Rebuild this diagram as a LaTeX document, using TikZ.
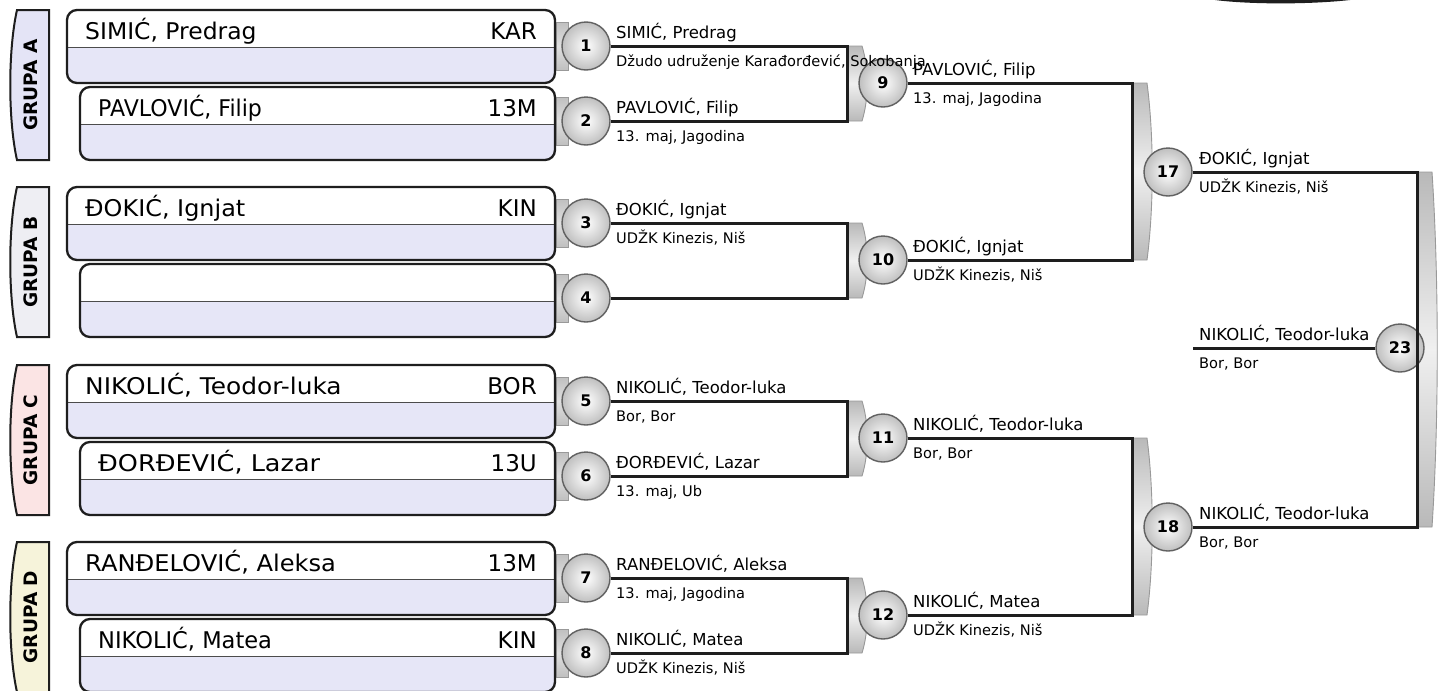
\documentclass[tikz,border=0pt]{standalone}
\usepackage{fontspec}
\setmainfont{DejaVu Sans}
\definecolor{lav}{HTML}{E6E6F7}
\definecolor{tabA}{HTML}{E4E4F6}
\definecolor{tabB}{HTML}{EEEEF3}
\definecolor{tabC}{HTML}{FBE4E4}
\definecolor{tabD}{HTML}{F6F3DA}
\definecolor{ink}{HTML}{1E1E1E}
\tikzset{
 conn/.style={line width=3pt, draw=ink},
 ball/.style={circle, minimum size=48pt, inner sep=0pt, draw=ink!70, line width=1.4pt, inner color=white, outer color=gray!50, font=\fontsize{16}{18}\selectfont\bfseries},
 pname/.style={anchor=base west, inner sep=0pt, font=\fontsize{16.5}{19}\selectfont},
 pclub/.style={anchor=base west, inner sep=0pt, font=\fontsize{14.6}{17}\selectfont},
 bigname/.style={anchor=base west, inner sep=0pt, font=\fontsize{23}{27}\selectfont},
 bigcode/.style={anchor=base east, inner sep=0pt, font=\fontsize{23}{27}\selectfont},
 grp/.style={rotate=90, inner sep=0pt, font=\fontsize{18.5}{20}\selectfont\bfseries},
 brfill/.style={draw=gray!80, line width=0.9pt, top color=gray!55, bottom color=gray!55, middle color=gray!12},
 tabfill/.style={draw=gray!80, line width=0.9pt, top color=gray!50, bottom color=gray!50, middle color=gray!25},
 grptab/.style={draw=ink, line width=2pt},
}
\newcommand\compbox[6]{%
 \begin{scope}
 \clip[rounded corners=10pt] (#1,#2) rectangle (555,#2+73);
 \fill[lav] (#1,#2) rectangle (555,#2+73);
 \fill[white] (#1,#2) rectangle (555,#2+37);
 \draw[gray!60!black, line width=1pt] (#1,#2+37) -- (555,#2+37);
 \end{scope}
 \draw[ink, line width=2.3pt, rounded corners=10pt] (#1,#2) rectangle (555,#2+73);
 \node[bigname] (#3n) at (#1+18,#2+29) {\scalebox{#6}[1]{#4}};
 \node[bigcode] (#3c) at (537,#2+29) {#5};
}
\newcommand\grouptab[4]{%
 \path[grptab, fill=#3] (49,#1) -- (17,#1) .. controls (8,#1+40) and (8,#1+110) .. (17,#1+150) -- (49,#1+150) -- cycle;
 \node[grp] (#2) at (31,#1+75) {#4};
}
\newcommand\smalltab[1]{%
 \path[tabfill] (556,#1-24) rectangle (568,#1+24);
}
\newcommand\bracketshape[3]{%
 \path[brfill] (#1,#2) -- (#1+15,#2) .. controls (#1+22,{#2+(#3-#2)*0.3}) and (#1+22,{#3-(#3-#2)*0.3}) .. (#1+15,#3) -- (#1,#3) -- cycle;
}
\begin{document}
\begin{tikzpicture}[x=1pt,y=-1pt]
\useasboundingbox (0,0) rectangle (1441,691);
\fill[white] (0,0) rectangle (1441,691);
% top-right fragment
\fill[ink] (1215,0) .. controls (1250,4.5) and (1310,4.5) .. (1350,0) -- cycle;
% group tabs
\grouptab{10}{gA}{tabA}{GRUPA A}
\grouptab{187}{gB}{tabB}{GRUPA B}
\grouptab{365}{gC}{tabC}{GRUPA C}
\grouptab{542}{gD}{tabD}{GRUPA D}
% small tabs
\smalltab{46}\smalltab{121}\smalltab{223}\smalltab{298}
\smalltab{401}\smalltab{476}\smalltab{578}\smalltab{653}
% competitor boxes
\compbox{67}{10}{a1}{SIMIĆ, Predrag}{KAR}{1.02}
\compbox{80}{87}{a2}{PAVLOVIĆ, Filip}{13M}{0.96}
\compbox{67}{187}{b1}{ĐOKIĆ, Ignjat}{KIN}{1.04}
\compbox{80}{264}{b2}{}{}{1}
\compbox{67}{365}{c1}{NIKOLIĆ, Teodor-luka}{BOR}{1.08}
\compbox{80}{442}{c2}{ĐORĐEVIĆ, Lazar}{13U}{1.11}
\compbox{67}{542}{d1}{RANĐELOVIĆ, Aleksa}{13M}{1.05}
\compbox{80}{619}{d2}{NIKOLIĆ, Matea}{KIN}{0.98}
% brackets
\bracketshape{847}{46}{121}
\bracketshape{847}{223}{298}
\bracketshape{847}{401}{476}
\bracketshape{847}{578}{653}
\bracketshape{1132}{83}{260}
\bracketshape{1132}{438}{615}
\bracketshape{1417}{172}{527}
% circles
\node[ball] (m1) at (586,46) {1};
\node[ball] (m2) at (586,121) {2};
\node[ball] (m3) at (586,223) {3};
\node[ball] (m4) at (586,298) {4};
\node[ball] (m5) at (586,401) {5};
\node[ball] (m6) at (586,476) {6};
\node[ball] (m7) at (586,578) {7};
\node[ball] (m8) at (586,653) {8};
\node[ball] (m9) at (883,83) {9};
\node[ball] (m10) at (883,260) {10};
\node[ball] (m11) at (883,438) {11};
\node[ball] (m12) at (883,615) {12};
\node[ball] (m17) at (1168,172) {17};
\node[ball] (m18) at (1168,527) {18};
\node[ball] (m23) at (1400,348) {23};
% bracket corner coordinates
\coordinate (k9a) at (847,46); \coordinate (k9b) at (847,121);
\coordinate (k10a) at (847,223); \coordinate (k10b) at (847,298);
\coordinate (k11a) at (847,401); \coordinate (k11b) at (847,476);
\coordinate (k12a) at (847,578); \coordinate (k12b) at (847,653);
\coordinate (k17a) at (1132,83); \coordinate (k17b) at (1132,260);
\coordinate (k18a) at (1132,438); \coordinate (k18b) at (1132,615);
\coordinate (k23a) at (1417,172); \coordinate (k23b) at (1417,527);
\coordinate (e23) at (1193,348);
% connectors
\draw[conn] (m1) -- (k9a) -- (k9b) -- (m2);
\draw[conn] (m3) -- (k10a) -- (k10b) -- (m4);
\draw[conn] (m5) -- (k11a) -- (k11b) -- (m6);
\draw[conn] (m7) -- (k12a) -- (k12b) -- (m8);
\draw[conn] (m9) -- (k17a) -- (k17b) -- (m10);
\draw[conn] (m11) -- (k18a) -- (k18b) -- (m12);
\draw[conn] (m17) -- (k23a) -- (k23b) -- (m18);
\draw[conn] (m23) -- (e23);
% labels
\node[pname] (n1) at (616,38) {SIMIĆ, Predrag};
\node[pclub] (l1) at (616,66) {Džudo udruženje Karađorđević, Sokobanja};
\node[pname] (n2) at (616,113) {PAVLOVIĆ, Filip};
\node[pclub] (l2) at (616,141) {13. maj, Jagodina};
\node[pname] (n3) at (616,215) {ĐOKIĆ, Ignjat};
\node[pclub] (l3) at (616,243) {UDŽK Kinezis, Niš};
\node[pname] (n5) at (616,393) {NIKOLIĆ, Teodor-luka};
\node[pclub] (l5) at (616,421) {Bor, Bor};
\node[pname] (n6) at (616,468) {ĐORĐEVIĆ, Lazar};
\node[pclub] (l6) at (616,496) {13. maj, Ub};
\node[pname] (n7) at (616,570) {RANĐELOVIĆ, Aleksa};
\node[pclub] (l7) at (616,598) {13. maj, Jagodina};
\node[pname] (n8) at (616,645) {NIKOLIĆ, Matea};
\node[pclub] (l8) at (616,673) {UDŽK Kinezis, Niš};
\node[pname] (n9) at (913,75) {PAVLOVIĆ, Filip};
\node[pclub] (l9) at (913,103) {13. maj, Jagodina};
\node[pname] (n10) at (913,252) {ĐOKIĆ, Ignjat};
\node[pclub] (l10) at (913,280) {UDŽK Kinezis, Niš};
\node[pname] (n11) at (913,430) {NIKOLIĆ, Teodor-luka};
\node[pclub] (l11) at (913,458) {Bor, Bor};
\node[pname] (n12) at (913,607) {NIKOLIĆ, Matea};
\node[pclub] (l12) at (913,635) {UDŽK Kinezis, Niš};
\node[pname] (n17) at (1199,164) {ĐOKIĆ, Ignjat};
\node[pclub] (l17) at (1199,192) {UDŽK Kinezis, Niš};
\node[pname] (n18) at (1199,519) {NIKOLIĆ, Teodor-luka};
\node[pclub] (l18) at (1199,547) {Bor, Bor};
\node[pname] (n23) at (1199,340) {NIKOLIĆ, Teodor-luka};
\node[pclub] (l23) at (1199,368) {Bor, Bor};
\end{tikzpicture}
\end{document}
